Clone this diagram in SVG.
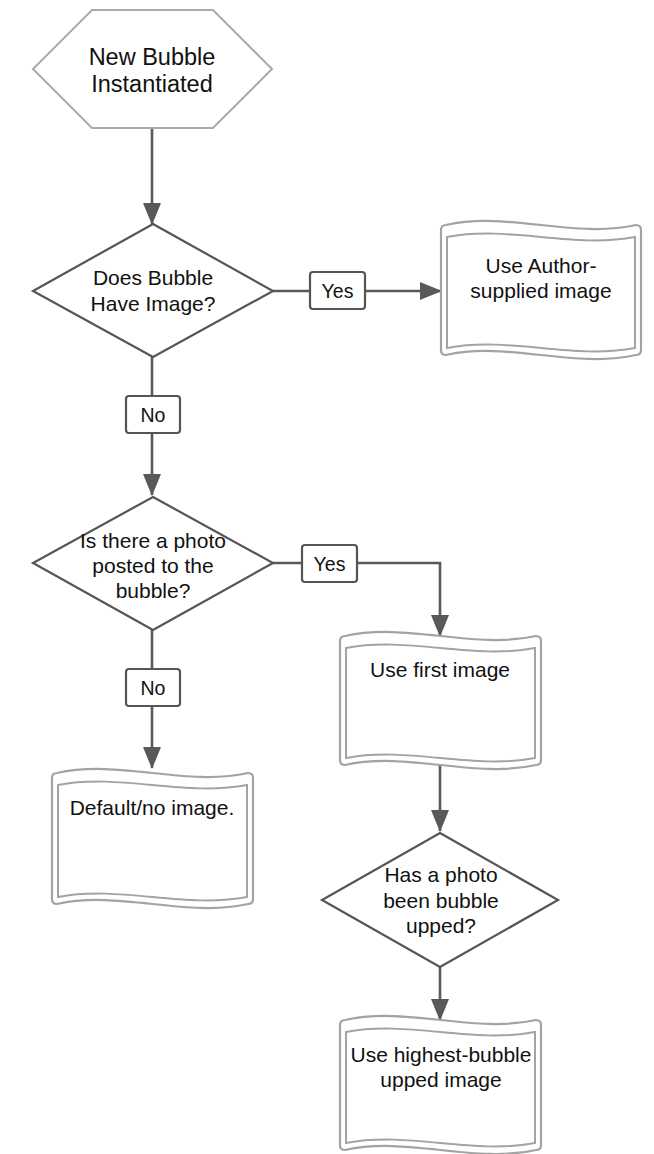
<svg xmlns="http://www.w3.org/2000/svg" width="654" height="1154" viewBox="0 0 654 1154">
<style>
text{font-family:"Liberation Sans",Arial,sans-serif;fill:#111;text-anchor:middle}
.t{font-size:21px}
.h{font-size:23.5px}
.l{font-size:19.5px}
.hex{fill:#fff;stroke:#aaa;stroke-width:2}
.dia{fill:#fff;stroke:#555;stroke-width:2.2;stroke-linejoin:miter}
.doc{fill:#fff;stroke:#a3a3a3;stroke-width:2.2;stroke-linejoin:round}
.in{fill:none;stroke:#a3a3a3;stroke-width:2}
.lab{fill:#fff;stroke:#555;stroke-width:2.2}
.c{fill:none;stroke:#595959;stroke-width:2.6}
</style>
<defs>
<marker id="ah" viewBox="0 0 22 18" refX="21" refY="9" markerUnits="userSpaceOnUse" markerWidth="22" markerHeight="18" orient="auto">
<path d="M0,0 L22,9 L0,18 Z" fill="#595959"/>
</marker>
</defs>

<g id="connectors">
<path class="c" d="M152,128 L152,224" marker-end="url(#ah)"/>
<path class="c" d="M273,291 L441,291" marker-end="url(#ah)"/>
<path class="c" d="M152,357 L152,495" marker-end="url(#ah)"/>
<path class="c" d="M273,563 L440,563 L440,636" marker-end="url(#ah)"/>
<path class="c" d="M152,630 L152,768" marker-end="url(#ah)"/>
<path class="c" d="M440,765 L440,831" marker-end="url(#ah)"/>
<path class="c" d="M440,967 L440,1020" marker-end="url(#ah)"/>
</g>

<g id="start">
<polygon class="hex" points="33,69 92,10 213,10 272,69 213,128 92,128"/>
<text class="h" x="152" y="65">New Bubble</text>
<text class="h" x="152" y="92">Instantiated</text>
</g>

<g id="q1">
<polygon class="dia" points="153,224 273,291 153,357 33,291"/>
<text class="t" x="153" y="285">Does Bubble</text>
<text class="t" x="153" y="311">Have Image?</text>
</g>

<g id="author">
<path class="doc" d="M441,230 Q441,225 446,225 C508,211 574,239 636,225 Q641,225 641,230 L641,350 Q641,355 636,355 C574,369 508,341 446,355 Q441,355 441,350 Z"/>
<path class="in" d="M447,237 C510,225 572,249 635,237 L635,348 C572,360 510,336 447,348 Z"/>
<text class="t" x="541" y="273">Use Author-</text>
<text class="t" x="541" y="298">supplied image</text>
</g>

<g id="q2">
<polygon class="dia" points="153,497 273,563 153,630 33,563"/>
<text class="t" x="153" y="548">Is there a photo</text>
<text class="t" x="153" y="573">posted to the</text>
<text class="t" x="153" y="598">bubble?</text>
</g>

<g id="first">
<path class="doc" d="M340,641 Q340,636 345,636 C407,622 474,650 536,636 Q541,636 541,641 L541,760 Q541,765 536,765 C474,779 407,751 345,765 Q340,765 340,760 Z"/>
<path class="in" d="M346,648 C409,636 472,660 535,648 L535,758 C472,770 409,746 346,758 Z"/>
<text class="t" x="440" y="677">Use first image</text>
</g>

<g id="default">
<path class="doc" d="M52,778 Q52,773 57,773 C119,759 186,787 248,773 Q253,773 253,778 L253,899 Q253,904 248,904 C186,918 119,890 57,904 Q52,904 52,899 Z"/>
<path class="in" d="M58,785 C121,773 184,797 247,785 L247,897 C184,909 121,885 58,897 Z"/>
<text class="t" x="152" y="815">Default/no image.</text>
</g>

<g id="q3">
<polygon class="dia" points="440,833 558,900 440,967 322,900"/>
<text class="t" x="441" y="882">Has a photo</text>
<text class="t" x="441" y="908">been bubble</text>
<text class="t" x="441" y="933">upped?</text>
</g>

<g id="highest">
<path class="doc" d="M340,1025 Q340,1020 345,1020 C407,1006 474,1034 536,1020 Q541,1020 541,1025 L541,1145 Q541,1150 536,1150 C474,1164 407,1136 345,1150 Q340,1150 340,1145 Z"/>
<path class="in" d="M346,1032 C409,1020 472,1044 535,1032 L535,1143 C472,1155 409,1131 346,1143 Z"/>
<text class="t" x="441" y="1062">Use highest-bubble</text>
<text class="t" x="441" y="1087">upped image</text>
</g>

<g id="labels">
<g id="yes1"><rect class="lab" x="310" y="272" width="55" height="37" rx="3"/><text class="l" x="337.5" y="298">Yes</text></g>
<g id="no1"><rect class="lab" x="126" y="396" width="54" height="37" rx="3"/><text class="l" x="153" y="421.5">No</text></g>
<g id="yes2"><rect class="lab" x="302" y="545" width="55" height="37" rx="3"/><text class="l" x="329.5" y="570.5">Yes</text></g>
<g id="no2"><rect class="lab" x="126" y="669" width="54" height="37" rx="3"/><text class="l" x="153" y="694.5">No</text></g>
</g>
</svg>
